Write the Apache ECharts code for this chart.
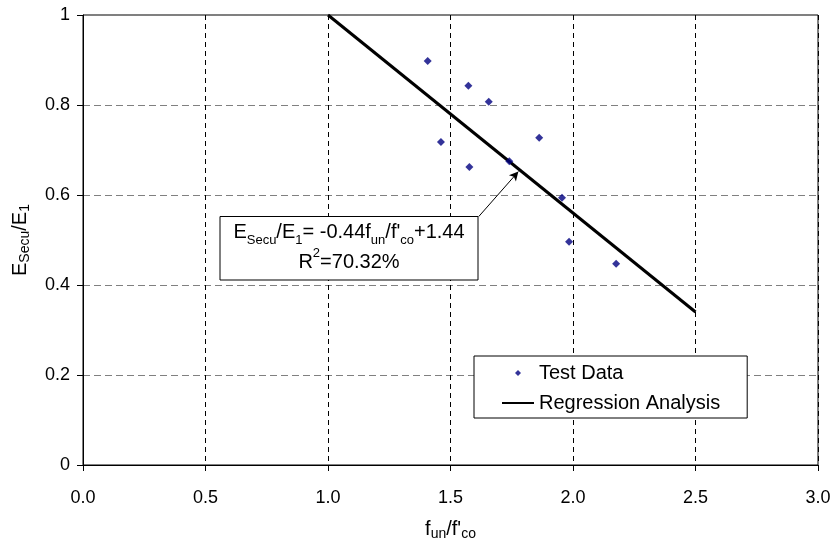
<!DOCTYPE html>
<html>
<head>
<meta charset="utf-8">
<script src="https://cdn.jsdelivr.net/npm/echarts@6/dist/echarts.min.js"></script>
<style>
  html, body { margin: 0; padding: 0; background: #fff; }
  #chart { width: 833px; height: 541px; }
</style>
</head>
<body>
<div id="chart"></div>
<script>
  // test points (f_un/f'co, E_secu/E_1)
  var testX = [1.407, 1.573, 1.656, 1.461, 1.862, 1.577, 1.740, 1.955, 1.984, 2.176];
  var testY = [0.898, 0.843, 0.807, 0.718, 0.727, 0.662, 0.675, 0.594, 0.496, 0.447];
  // regression line end points
  var regX = [1.0, 2.5];
  var regY = [1.0, 0.34];
  // arrow from the equation box to the line
  var arrowFrom = [1.615, 0.552];
  var arrowTo = [1.777, 0.652];

  var xTicks = [0, 0.5, 1.0, 1.5, 2.0, 2.5, 3.0];
  var yTicks = [0, 0.2, 0.4, 0.6, 0.8, 1];

  var font = 'Liberation Sans, Arial, sans-serif';

  var nameRich = {
    m: { fontSize: 20, lineHeight: 24, color: '#000', fontFamily: font },
    s: { fontSize: 14, lineHeight: 12, verticalAlign: 'bottom', color: '#000', fontFamily: font }
  };

  var chart = echarts.init(document.getElementById('chart'));
  var option = {
    backgroundColor: '#fff',
    animation: false,
    textStyle: { fontFamily: font },
    grid: {
      left: 83, right: 15, top: 15, bottom: 76,
      outerBoundsMode: 'none',
      show: true,
      borderColor: '#000',
      borderWidth: 1
    },
    legend: {
      orient: 'vertical',
      left: 474,
      top: 356,
      padding: [7, 27, 5, 27],
      backgroundColor: '#fff',
      borderColor: '#000',
      borderWidth: 1,
      itemWidth: 32,
      itemHeight: 6,
      itemGap: 10,
      symbolKeepAspect: true,
      textStyle: { fontSize: 20, lineHeight: 20, color: '#000', fontFamily: font },
      data: [
        { name: 'Test Data', icon: 'path://M5,0L10,5L5,10L0,5Z' },
        { name: 'Regression Analysis', itemStyle: { opacity: 0 } }
      ]
    },
    xAxis: {
      type: 'value',
      min: xTicks[0],
      max: xTicks[xTicks.length - 1],
      interval: 0.5,
      name: '{m|f}{s|un}{m|/f\'}{s|co}',
      nameLocation: 'middle',
      nameGap: 52,
      nameTextStyle: { rich: nameRich },
      axisLine: { show: true, lineStyle: { color: '#000', width: 1 } },
      axisTick: { show: true, inside: false, length: 6, lineStyle: { color: '#000' } },
      axisLabel: {
        fontSize: 18, color: '#000', margin: 24,
        formatter: function (v) { return v.toFixed(1); }
      },
      splitLine: { show: true, lineStyle: { color: '#000', type: [5, 4], width: 1 } }
    },
    yAxis: {
      type: 'value',
      min: yTicks[0],
      max: yTicks[yTicks.length - 1],
      interval: 0.2,
      name: '{m|E}{s|Secu}{m|/E}{s|1}',
      nameLocation: 'middle',
      nameGap: 51,
      nameTextStyle: { rich: nameRich },
      axisLine: { show: true, lineStyle: { color: '#000', width: 1 } },
      axisTick: { show: true, inside: false, length: 6, lineStyle: { color: '#000' } },
      axisLabel: {
        fontSize: 18, color: '#000', margin: 13,
        formatter: function (v) { return (v === 0 || v === 1) ? String(v) : v.toFixed(1); }
      },
      splitLine: { show: true, lineStyle: { color: '#808080', type: [7, 4], width: 1 } }
    },
    series: [
      {
        name: 'Test Data',
        type: 'scatter',
        symbol: 'diamond',
        symbolSize: 8,
        itemStyle: { color: '#000080' },
        data: testX.map(function (x, i) { return [x, testY[i]]; }),
        z: 4
      },
      {
        name: 'Regression Analysis',
        type: 'line',
        symbol: 'none',
        itemStyle: { color: '#000' },
        lineStyle: { color: '#000', width: 3 },
        data: regX.map(function (x, i) { return [x, regY[i]]; }),
        markLine: {
          silent: true,
          symbol: ['none', 'arrow'],
          symbolSize: [7, 9],
          label: { show: false },
          lineStyle: { color: '#000', width: 1, type: 'solid' },
          data: [[{ coord: arrowFrom }, { coord: arrowTo }]]
        },
        z: 3
      }
    ],
    graphic: [
      {
        type: 'rect',
        shape: { x: 220, y: 216.5, width: 258, height: 63.5 },
        style: { fill: '#fff', stroke: '#000', lineWidth: 1 },
        z: 10
      },
      {
        type: 'text',
        x: 349,
        y: 247,
        z: 11,
        style: {
          text: '{m|E}{s|Secu}{m|/E}{s|1}{m|= -0.44f}{s|un}{m|/f\'}{s|co}{m|+1.44}\n{m|R}{p|2}{m|=70.32%}',
          align: 'center',
          verticalAlign: 'middle',
          fill: '#000',
          font: '20px ' + font,
          rich: {
            m: { fontSize: 20, lineHeight: 30, fill: '#000', fontFamily: font },
            s: { fontSize: 13, lineHeight: 17, verticalAlign: 'bottom', fill: '#000', fontFamily: font },
            p: { fontSize: 13, lineHeight: 22, verticalAlign: 'top', fill: '#000', fontFamily: font }
          }
        }
      }
    ]
  };
  chart.setOption(option);
  window.addEventListener('resize', function () {
    chart.resize();
  });
</script>
</body>
</html>
